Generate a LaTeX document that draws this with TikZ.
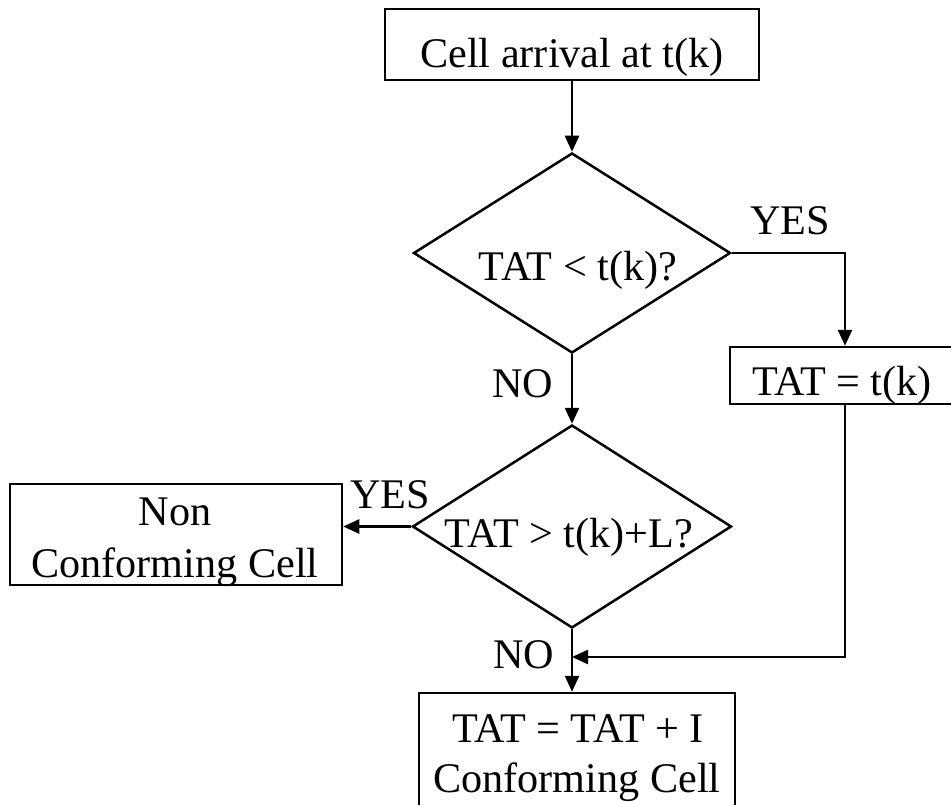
\documentclass[tikz,border=0pt]{standalone}
\usepackage{fontspec}
\setmainfont{Liberation Serif}
\usetikzlibrary{shapes.geometric,arrows.meta}
\begin{document}
\begin{tikzpicture}[x=1pt,y=-1pt,
  every node/.style={font=\fontsize{42.2}{51}\selectfont},
  box/.style={draw,line width=2.5pt,rectangle,inner sep=0pt},
  dia/.style={draw,line width=2.5pt,diamond,inner sep=0pt},
  lbl/.style={anchor=base,inner sep=0pt},
  arr/.style={line width=2.5pt,-{Triangle[length=16pt,width=14pt]}}]
\useasboundingbox (0,0) rectangle (951,805);
\clip (0,0) rectangle (951,805);
% shapes
\node[box,minimum width=374pt,minimum height=71pt] (top) at (572,44.5) {};
\node[dia,minimum width=317pt,minimum height=200pt] (d1) at (572,253) {};
\node[box,minimum width=230pt,minimum height=57pt] (tk) at (845,375.5) {};
\node[dia,minimum width=319pt,minimum height=203pt] (d2) at (572,526.5) {};
\node[box,minimum width=332pt,minimum height=101pt] (nc) at (176,534.5) {};
\node[box,minimum width=316pt,minimum height=124pt] (fin) at (577,755) {};
\coordinate (m) at (572,657);
% texts
\node[lbl] (t1) at (572,68) {Cell arrival at t(k)};
\node[lbl] (t2) at (578,280) {TAT < t(k)?};
\node[lbl] (t3) at (842,395) {TAT = t(k)};
\node[lbl] (t4) at (569,547) {TAT > t(k)+L?};
\node[lbl] (t5) at (175,525) {Non};
\node[lbl] (t6) at (175,577) {Conforming Cell};
\node[lbl] (t7) at (578,742) {TAT = TAT + I};
\node[lbl] (t8) at (577,792) {Conforming Cell};
\node[lbl] (y1) at (790,235) {YES};
\node[lbl] (y2) at (390,508) {YES};
\node[lbl] (n1) at (523,397) {NO};
\node[lbl] (n2) at (524,668) {NO};
% connectors
\draw[arr] (top.south) -- (d1.north);
\draw[arr] (d1.south) -- (d2.north);
\draw[arr] (d1.east) -| (tk.north);
\draw[arr] (d2.west) -- (d2.west -| nc.east);
\draw[arr] (d2.south) -- (d2.south |- fin.north);
\draw[arr] (tk.south) |- (m);
\end{tikzpicture}
\end{document}
